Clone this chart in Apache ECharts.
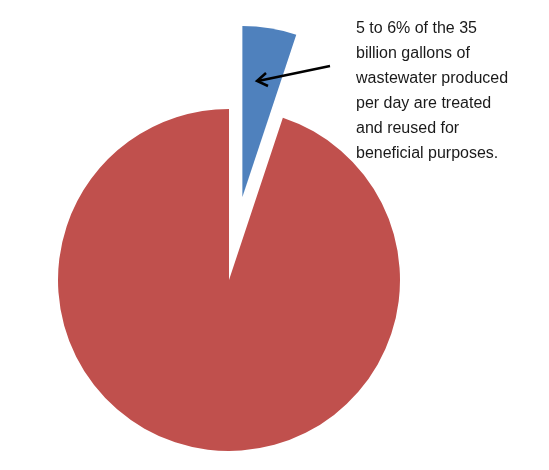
<!DOCTYPE html>
<html>
<head>
<meta charset="utf-8">
<script src="https://cdn.jsdelivr.net/npm/echarts@6/dist/echarts.min.js"></script>
<style>
  html, body { margin: 0; padding: 0; background: #fff; }
  #chart { width: 549px; height: 470px; }
</style>
</head>
<body>
<div id="chart"></div>
<script>
// 数据
var names = ['Treated and reused', 'Other wastewater']
var values = [5.1, 94.9]
var colors = ['#4F81BD', '#C0504D']
var noteLines = [
    '5 to 6% of the 35',
    'billion gallons of',
    'wastewater produced',
    'per day are treated',
    'and reused for',
    'beneficial purposes.'
]

var chart = echarts.init(document.getElementById('chart'))

var pieData = values.map(function (v, i) {
    return {
        name: names[i],
        value: v,
        selected: i === 0,
        itemStyle: { color: colors[i] }
    }
})

var option = {
    animation: false,
    series: [
        {
            type: 'pie',
            center: [229, 280],
            radius: 171,
            startAngle: 90,
            clockwise: true,
            selectedMode: 'single',
            selectedOffset: 84,
            label: { show: false },
            labelLine: { show: false },
            emphasis: { disabled: true },
            itemStyle: { borderWidth: 0 },
            data: pieData
        }
    ],
    graphic: [
        {
            type: 'text',
            left: 356,
            top: 16,
            z: 100,
            style: {
                text: noteLines.join('\n'),
                font: '16px "Liberation Sans", Arial, sans-serif',
                lineHeight: 25,
                fill: '#1a1a1a'
            }
        },
        // 箭头
        {
            type: 'line',
            z: 100,
            shape: { x1: 330, y1: 66, x2: 258, y2: 81 },
            style: { stroke: '#000', lineWidth: 2.5 }
        },
        {
            type: 'polyline',
            z: 100,
            shape: { points: [[266, 73], [257, 81], [268, 86]] },
            style: { stroke: '#000', lineWidth: 2.5, fill: null }
        }
    ]
}
chart.setOption(option)
</script>
</body>
</html>
